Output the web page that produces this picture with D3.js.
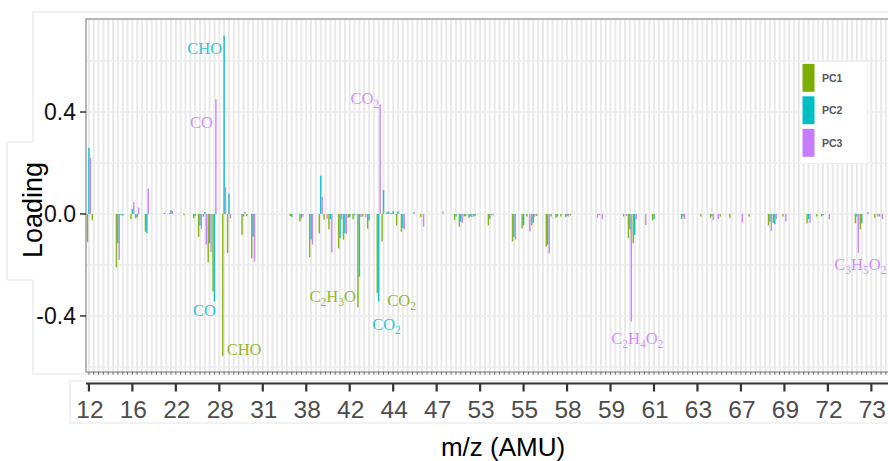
<!DOCTYPE html>
<html>
<head>
<meta charset="utf-8">
<script src="https://cdn.jsdelivr.net/npm/d3@7"></script>
<style>
  body { margin: 0; background: #fff; }
  svg { display: block; }
</style>
</head>
<body>
<svg id="chart" width="888" height="461"></svg>
<script>
// loadings per ion (ions in m/z order)
const series = ["PC1", "PC2", "PC3"];
const colors = ["#7CAE00", "#00BFC4", "#C77CFF"];

const pc1 = [
  -0.11, -0.025, 0, 0, 0, 0, -0.21, -0.004, 0, -0.02,
  -0.017, 0, -0.07, 0, 0, 0, 0.004, 0.003, 0, 0,
  -0.005, 0, -0.017, -0.09, -0.01, -0.19, -0.305, 0, -0.557, -0.153,
  0, 0, -0.082, -0.008, -0.174, 0, 0, 0, 0, 0,
  0, 0, -0.008, 0, -0.03, 0, -0.17, 0, -0.076, -0.022,
  -0.06, 0, -0.135, -0.1, -0.015, -0.02, -0.366, -0.01, -0.058, 0,
  -0.31, -0.108, 0.006, 0.004, -0.045, -0.07, 0, 0, 0, -0.012,
  0, 0, 0, 0, 0, 0, -0.024, -0.05, -0.01, -0.015,
  -0.01, 0, 0, -0.045, -0.005, 0, 0, 0, -0.108, 0,
  -0.056, -0.01, -0.045, -0.008, 0, -0.128, -0.01, -0.015, -0.01, -0.012,
  -0.006, 0, 0, 0, 0, 0, -0.005, 0, 0, 0,
  0, -0.01, -0.095, -0.115, 0, 0, 0, -0.025, 0, 0,
  0, 0, 0, -0.02, 0, 0, 0, -0.01, 0, -0.015,
  0, -0.01, 0, -0.015, 0, 0, 0, -0.01, 0, 0,
  0, -0.045, -0.035, 0, -0.01, 0, 0, 0, 0, -0.037,
  0, -0.01, -0.01, 0, 0, 0, 0, 0, 0, -0.037,
  -0.06, 0, 0, -0.015, -0.01, 0
];

const pc2 = [
  0.26, 0, 0, 0, 0, 0, -0.115, -0.006, 0, 0.02,
  -0.012, 0, -0.075, 0, 0, 0, 0, 0.015, 0, 0,
  0, 0, -0.008, -0.045, 0.008, -0.115, -0.344, 0, 0.70, 0.08,
  0, 0, -0.01, 0, -0.089, 0, 0, 0, 0, 0,
  0, 0, -0.012, 0, -0.017, 0, -0.10, 0, 0.15, 0,
  -0.02, 0, -0.095, -0.076, -0.012, -0.005, -0.246, 0, -0.025, 0,
  -0.344, 0.094, 0.01, 0.012, 0.01, -0.055, 0, 0, 0, 0,
  0, 0, 0, 0, 0, 0, -0.01, -0.03, -0.008, -0.01,
  -0.006, 0, 0, -0.02, 0, 0, 0, 0, -0.09, 0,
  -0.045, 0, -0.035, 0, 0, -0.12, 0, -0.01, 0, -0.008,
  0, 0, 0, 0, 0, 0, 0, 0, 0, 0,
  0, 0, -0.06, -0.082, 0, 0, 0, -0.02, 0, 0,
  0, 0, 0, -0.01, 0, 0, 0, 0, 0, -0.008,
  0, 0, 0, 0, 0, 0, 0, 0, 0, 0,
  0, -0.03, -0.04, 0, 0, 0, 0, 0, 0, -0.02,
  0, 0, -0.005, 0, 0, 0, 0, 0, 0, -0.01,
  -0.037, 0, 0, 0, 0, 0
];

const pc3 = [
  0.22, 0, 0, 0, 0, 0, -0.18, 0, 0, 0.047,
  0.025, 0, 0.1, 0, 0, 0, 0, 0.012, 0, 0,
  0, 0, 0, -0.06, -0.12, -0.15, 0.45, 0, 0.105, -0.017,
  0, 0, 0.009, 0, -0.187, 0, 0, 0, 0, 0,
  0, 0, 0, 0, -0.01, 0, -0.12, 0, 0.068, -0.018,
  -0.15, 0, -0.02, -0.078, 0, 0, -0.012, -0.012, 0, 0,
  0.43, 0, 0.004, 0, 0, -0.06, 0, 0.008, 0, -0.05,
  0, 0, 0, 0.01, 0, 0, 0, -0.035, 0, -0.012,
  0, 0, 0, -0.005, 0, 0, 0, 0, -0.1, 0,
  0, -0.069, -0.01, 0, 0, -0.155, 0, 0, 0, -0.01,
  0, 0, 0, 0, 0, -0.015, -0.02, 0, 0, 0,
  0, -0.008, -0.422, -0.02, 0, -0.043, 0, 0, 0, 0,
  0, 0, 0, -0.02, 0, 0, 0, 0, 0, -0.024,
  -0.02, 0, 0, 0, 0, -0.034, 0, 0, 0, 0,
  0, -0.065, -0.02, 0, -0.03, 0, 0, 0, 0, -0.035,
  0, 0, 0, -0.02, 0, 0, 0, 0, 0, -0.152,
  0, 0.008, 0, -0.01, -0.02, 0
];

// one label every 9 ions
const tickLabels = ["12", "16", "22", "28", "31", "38", "42", "44", "47", "53",
                    "55", "58", "59", "61", "63", "67", "69", "72", "73"];
const tickEvery = 9;
const yTicks = [-0.4, 0, 0.4];
const yGrid = [-0.6, -0.4, -0.2, 0, 0.2, 0.4, 0.6];

// peak labels: ion index, series, y of text baseline (loading units)
const annotations = [
  { label: "CHO",    series: "PC2", ion: 28,  y: 0.627,  anchor: "end",    dx: -2 },
  { label: "CO",     series: "PC3", ion: 26,  y: 0.337,  anchor: "end",    dx: -3 },
  { label: "CO",     series: "PC2", ion: 26,  y: -0.40,  anchor: "end",    dx: 1.5 },
  { label: "CHO",    series: "PC1", ion: 28,  y: -0.553, anchor: "start",  dx: 4 },
  { label: "C2H3O",  series: "PC1", ion: 56,  y: -0.345, anchor: "end",    dx: -2 },
  { label: "CO2",    series: "PC1", ion: 60,  y: -0.36,  anchor: "start",  dx: 10 },
  { label: "CO2",    series: "PC2", ion: 60,  y: -0.455, anchor: "start",  dx: -6.5 },
  { label: "CO2",    series: "PC3", ion: 60,  y: 0.431,  anchor: "end",    dx: -1 },
  { label: "C2H4O2", series: "PC3", ion: 112, y: -0.51,  anchor: "middle", dx: 6 },
  { label: "C3H5O2", series: "PC3", ion: 159, y: -0.22,  anchor: "middle", dx: 2 }
];

const values = { PC1: pc1, PC2: pc2, PC3: pc3 };
const ions = d3.range(pc1.length);
const color = d3.scaleOrdinal().domain(series).range(colors);

const svg = d3.select("#chart");
const W = 888;
const sans = "'Liberation Sans', Arial, sans-serif";
const serif = "'Liberation Serif', 'Times New Roman', serif";

const panel = { left: 86, top: 19, bottom: 372 };
const bw = 4.83;

const x = d3.scaleBand()
  .domain(ions)
  .range([panel.left + 0.1 * bw, panel.left + 0.1 * bw + ions.length * bw]);
const xSub = d3.scaleBand()
  .domain(series)
  .range([0.05 * bw, 0.95 * bw]);
const y = d3.scaleLinear()
  .domain([-0.62, 0.765])
  .range([panel.bottom, panel.top]);

// pasted white boxes behind the pieces
svg.append("rect")
  .attr("x", 33).attr("y", 12).attr("width", 900).attr("height", 362)
  .attr("fill", "#fff").attr("stroke", "#e4e4e4");

// "Loading" box (sits under the tick labels)
svg.append("rect")
  .attr("x", 7).attr("y", 142).attr("width", 40).attr("height", 138)
  .attr("fill", "#fff");
svg.append("path")
  .attr("d", "M33,142H7V280H33")
  .attr("fill", "none")
  .attr("stroke", "#e4e4e4");
svg.append("text")
  .attr("transform", "translate(42,210) rotate(-90)")
  .attr("text-anchor", "middle")
  .attr("font-family", sans)
  .attr("font-size", 27)
  .attr("fill", "#000")
  .text("Loading");

// panel
svg.append("defs").append("clipPath").attr("id", "clip")
  .append("rect")
  .attr("x", panel.left).attr("y", panel.top)
  .attr("width", W - panel.left).attr("height", panel.bottom - panel.top);

const plot = svg.append("g").attr("clip-path", "url(#clip)");

plot.append("rect")
  .attr("x", panel.left).attr("y", panel.top)
  .attr("width", W - panel.left).attr("height", panel.bottom - panel.top)
  .attr("fill", "#fff");

plot.selectAll("line.vgrid")
  .data(ions)
  .enter()
  .append("line")
  .attr("class", "vgrid")
  .attr("x1", d => x(d) + bw / 2)
  .attr("x2", d => x(d) + bw / 2)
  .attr("y1", panel.top)
  .attr("y2", panel.bottom)
  .attr("stroke", "#e9e9e9")
  .attr("stroke-width", 2);

plot.selectAll("line.hgrid")
  .data(yGrid)
  .enter()
  .append("line")
  .attr("class", "hgrid")
  .attr("x1", panel.left)
  .attr("x2", W)
  .attr("y1", d => y(d))
  .attr("y2", d => y(d))
  .attr("stroke", "#ebebeb")
  .attr("stroke-width", 1.4);

// bars
const barData = [];
series.forEach(s => {
  values[s].forEach((v, i) => {
    if (v !== 0) barData.push({ s, i, v });
  });
});

plot.selectAll("rect.bar")
  .data(barData)
  .enter()
  .append("rect")
  .attr("class", "bar")
  .attr("x", d => x(d.i) + xSub(d.s))
  .attr("width", xSub.bandwidth())
  .attr("y", d => y(Math.max(0, d.v)))
  .attr("height", d => Math.abs(y(d.v) - y(0)))
  .attr("fill", d => color(d.s))
  .attr("fill-opacity", 0.9);

// peak labels
const ann = plot.selectAll("text.ann")
  .data(annotations)
  .enter()
  .append("text")
  .attr("class", "ann")
  .attr("x", d => x(d.ion) + xSub(d.series) + xSub.bandwidth() / 2 + d.dx)
  .attr("y", d => y(d.y))
  .attr("text-anchor", d => d.anchor)
  .attr("font-family", serif)
  .attr("font-size", 16.5)
  .attr("fill", d => color(d.series))
  .attr("fill-opacity", 0.85);

ann.each(function(d) {
  const t = d3.select(this);
  const runs = d.label.match(/\d+|\D+/g);
  let shifted = false;
  runs.forEach(r => {
    const sub = /\d/.test(r);
    const ts = t.append("tspan").text(r);
    if (sub) {
      ts.attr("font-size", 11.5).attr("dy", 4);
      shifted = true;
    } else if (shifted) {
      ts.attr("dy", -4);
      shifted = false;
    }
  });
});

// panel frame and tiny ticks under every ion
svg.append("path")
  .attr("d", `M${W},${panel.top}H${panel.left}V${panel.bottom}H${W}`)
  .attr("fill", "none")
  .attr("stroke", "#9e9e9e")
  .attr("stroke-width", 1.5);

svg.selectAll("line.minitick")
  .data(ions)
  .enter()
  .append("line")
  .attr("class", "minitick")
  .attr("x1", d => x(d) + bw / 2)
  .attr("x2", d => x(d) + bw / 2)
  .attr("y1", panel.bottom)
  .attr("y2", panel.bottom + 2.5)
  .attr("stroke", "#666")
  .attr("stroke-width", 1);

// y axis
const yAxis = svg.append("g");
yAxis.selectAll("line")
  .data(yTicks)
  .enter()
  .append("line")
  .attr("x1", panel.left - 6)
  .attr("x2", panel.left)
  .attr("y1", d => y(d))
  .attr("y2", d => y(d))
  .attr("stroke", "#333")
  .attr("stroke-width", 1.5);
yAxis.selectAll("text")
  .data(yTicks)
  .enter()
  .append("text")
  .attr("x", panel.left - 10)
  .attr("y", d => y(d))
  .attr("dy", "0.36em")
  .attr("text-anchor", "end")
  .attr("font-family", sans)
  .attr("font-size", 23)
  .attr("fill", "#111")
  .text(d => d3.format(".1f")(d).replace("−", "-"));

// pasted x axis strip
const stripTop = 381;
svg.append("rect")
  .attr("x", 70).attr("y", stripTop).attr("width", 830).attr("height", 42)
  .attr("fill", "#fff").attr("stroke", "#e4e4e4");

const labeled = ions.filter(i => i % tickEvery === 0).slice(0, tickLabels.length);

svg.append("line")
  .attr("x1", panel.left).attr("x2", W)
  .attr("y1", stripTop + 2.5).attr("y2", stripTop + 2.5)
  .attr("stroke", "#333").attr("stroke-width", 2);

svg.selectAll("line.xtick")
  .data(labeled)
  .enter()
  .append("line")
  .attr("class", "xtick")
  .attr("x1", d => x(d) + bw / 2)
  .attr("x2", d => x(d) + bw / 2)
  .attr("y1", stripTop + 2)
  .attr("y2", stripTop + 10.5)
  .attr("stroke", "#333")
  .attr("stroke-width", 2.2);

svg.selectAll("text.xlab")
  .data(labeled)
  .enter()
  .append("text")
  .attr("class", "xlab")
  .attr("x", d => x(d) + bw / 2 + 1)
  .attr("y", stripTop + 37)
  .attr("text-anchor", "middle")
  .attr("font-family", sans)
  .attr("font-size", 24.5)
  .attr("fill", "#4d4d4d")
  .text((d, k) => tickLabels[k]);

svg.append("text")
  .attr("x", 503)
  .attr("y", 456)
  .attr("text-anchor", "middle")
  .attr("font-family", sans)
  .attr("font-size", 26)
  .attr("fill", "#000")
  .text("m/z (AMU)");

// legend
const legend = svg.append("g");
legend.append("rect")
  .attr("x", 801).attr("y", 62).attr("width", 66).attr("height", 101)
  .attr("fill", "#fff");
const key = legend.selectAll("g.key")
  .data(series)
  .enter()
  .append("g")
  .attr("class", "key")
  .attr("transform", (d, k) => `translate(802,${63.3 + k * 32.5})`);
key.append("rect")
  .attr("width", 13)
  .attr("height", 29)
  .attr("fill", d => color(d))
  .attr("stroke", "#fff")
  .attr("stroke-width", 1);
key.append("text")
  .attr("x", 20)
  .attr("y", 14.5)
  .attr("dy", "0.36em")
  .attr("font-family", sans)
  .attr("font-size", 10.5)
  .attr("font-weight", "bold")
  .attr("fill", "#555")
  .text(d => d);
</script>
</body>
</html>
